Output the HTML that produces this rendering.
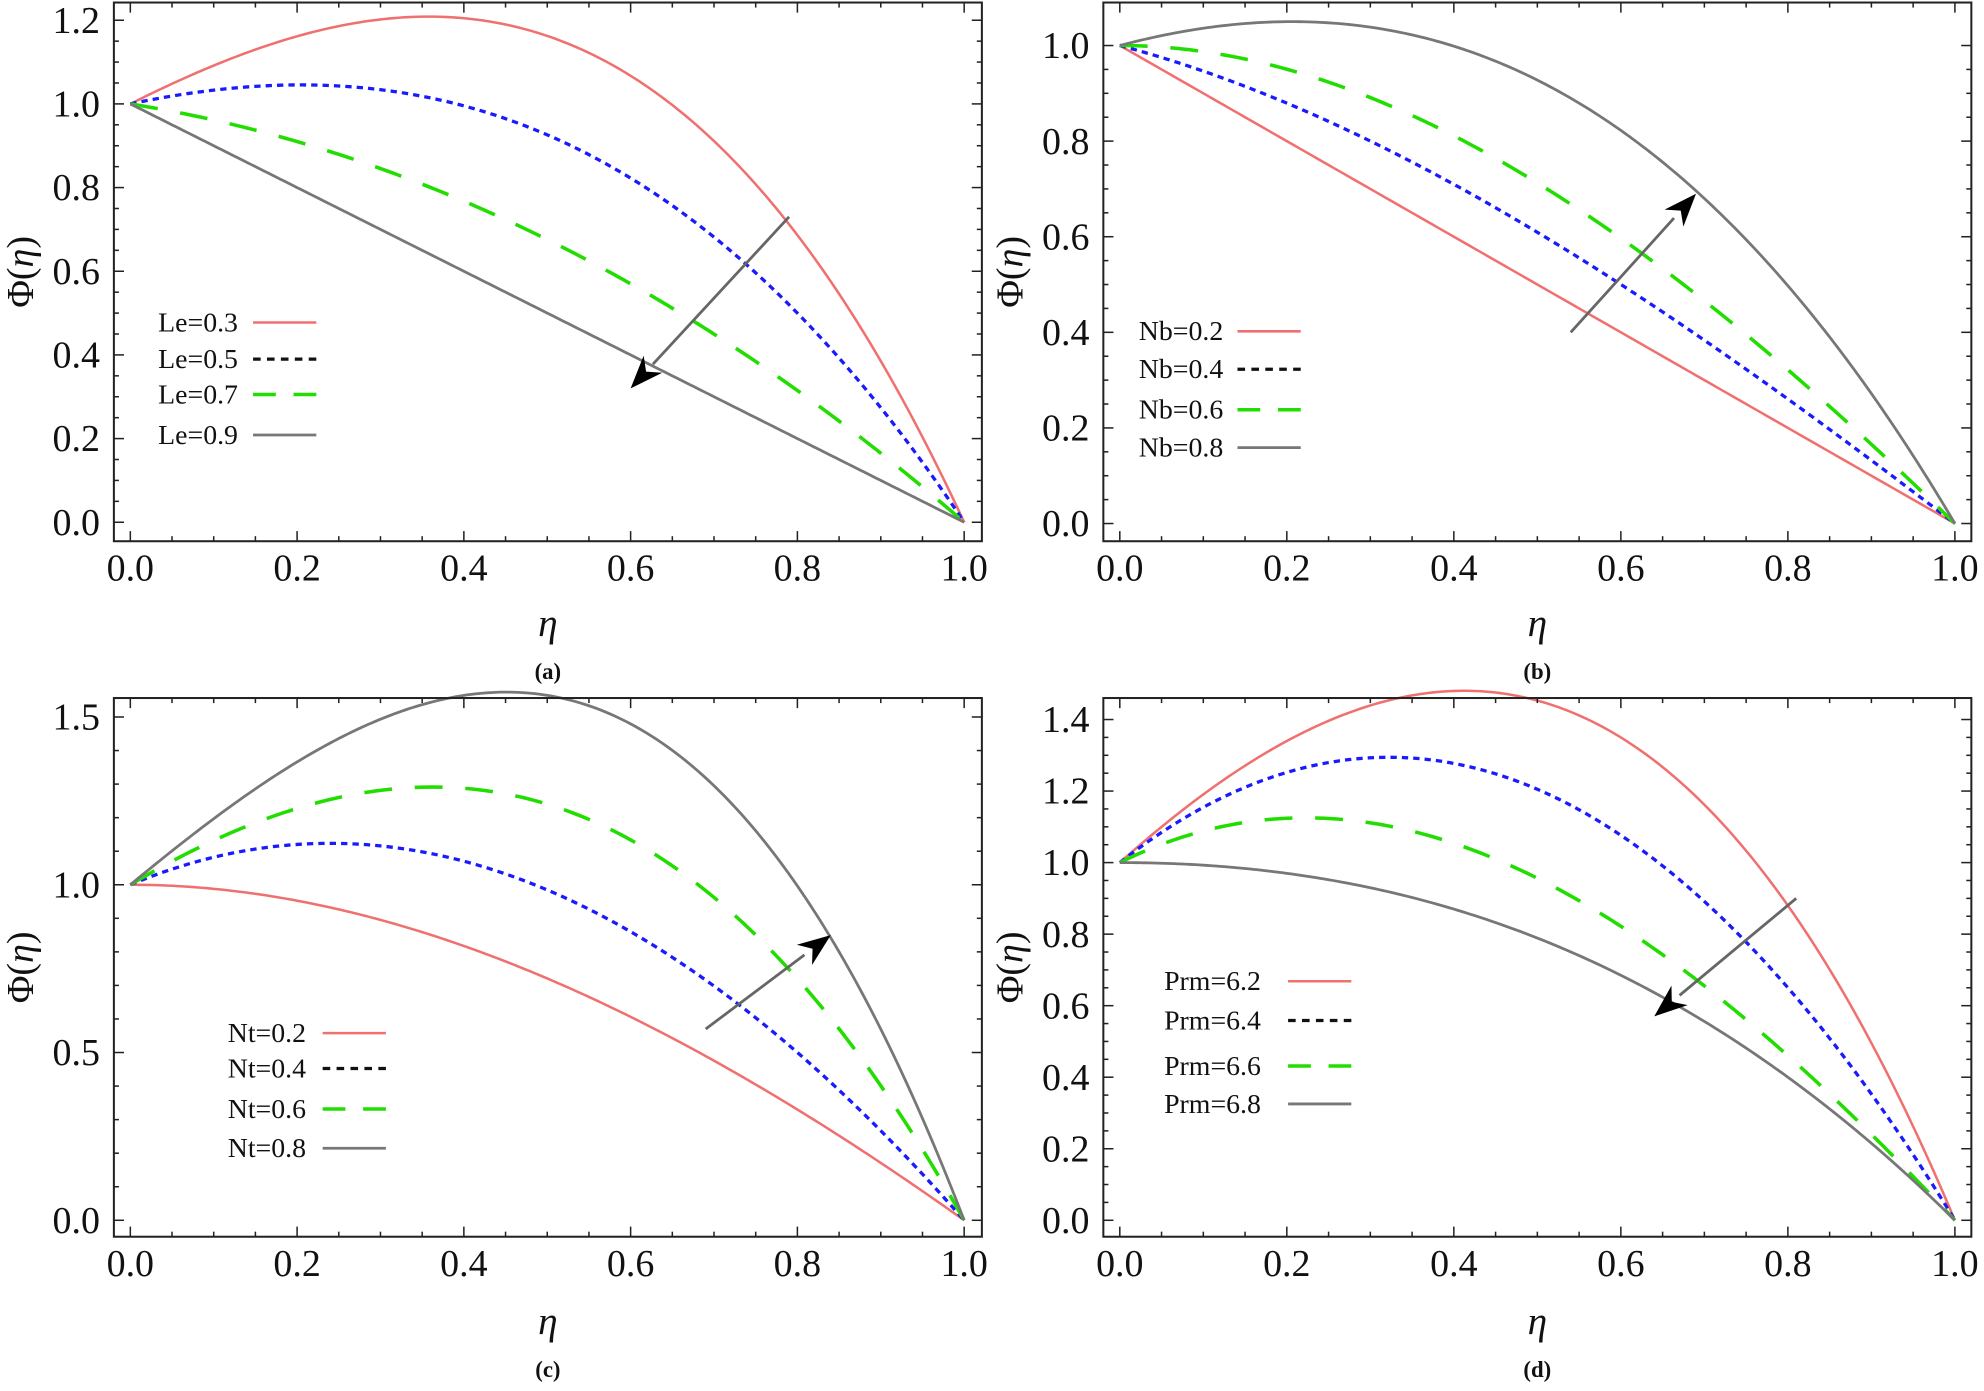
<!DOCTYPE html>
<html><head><meta charset="utf-8"><style>
html,body{margin:0;padding:0;background:#fff;}
svg{display:block;}
text{font-family:"Liberation Serif",serif;fill:#111;}
</style></head><body>
<svg id="s" width="1984" height="1391" viewBox="0 0 1568 1100" preserveAspectRatio="none" xmlns="http://www.w3.org/2000/svg">
</svg>
<script>
var S=document.getElementById('s');var NS='http://www.w3.org/2000/svg';
function el(t,a,txt){var e=document.createElementNS(NS,t);for(var k in a)e.setAttribute(k,a[k]);if(txt!==undefined)e.textContent=txt;S.appendChild(e);return e;}
var panels=[
{L:90,R:776,T:2,B:428,x0:103,x1:762,y0:413,yv:1.2,yp:16,ticks:[0,0.2,0.4,0.6,0.8,1.0,1.2],minor:0.05,
 curves:[[2.0,1.3],[1.42,0.568],[0.677,0.052],[0,0]],arrow:[0.79,0.73,0.60,0.32],
 lg:{x:125,ys:[255,284,312,344],lx:[200,250],labels:["Le=0.3","Le=0.5","Le=0.7","Le=0.9"]},cap:"(a)",capy:537,ety:503},
{L:872,R:1558,T:2,B:428,x0:885,x1:1545,y0:414,yv:1.0,yp:36,ticks:[0,0.2,0.4,0.6,0.8,1.0],minor:0.05,
 curves:[[0,0],[0.536,-0.198],[1.0,-0.3],[1.463,0.495]],arrow:[0.54,0.40,0.69,0.69],
 lg:{x:900,ys:[262,292,324,354],lx:[978,1028],labels:["Nb=0.2","Nb=0.4","Nb=0.6","Nb=0.8"]},cap:"(b)",capy:537,ety:503},
{L:90,R:776,T:552,B:978,x0:103,x1:762,y0:965,yv:1.5,yp:567,ticks:[0,0.5,1.0,1.5],minor:0.1,
 curves:[[1,-0.234],[2.043,-0.21],[2.48,0.962],[3.058,2.40]],arrow:[0.69,0.57,0.84,0.85],
 lg:{x:180,ys:[817,845,877,908],lx:[255,305],labels:["Nt=0.2","Nt=0.4","Nt=0.6","Nt=0.8"]},cap:"(c)",capy:1089,ety:1055},
{L:872,R:1558,T:552,B:978,x0:885,x1:1545,y0:965,yv:1.4,yp:569,ticks:[0,0.2,0.4,0.6,0.8,1.0,1.2,1.4],minor:0.05,
 curves:[[3.083,1.458],[2.83,-0.02],[2.158,-0.666],[1,0.3125]],arrow:[0.81,0.90,0.64,0.57],
 lg:{x:920,ys:[776,807,843,873],lx:[1018,1068],labels:["Prm=6.2","Prm=6.4","Prm=6.6","Prm=6.8"]},cap:"(d)",capy:1089,ety:1055}
];
var styles=[{s:"#f07070",w:2,d:""},{s:"#1a1aff",w:2.6,d:"5,4"},{s:"#22dd00",w:2.8,d:"22,18"},{s:"#777",w:2.2,d:""}];
var lgst=[{s:"#f07070",w:2,d:""},{s:"#111",w:2.6,d:"6,5"},{s:"#22dd00",w:2.8,d:"18,14"},{s:"#777",w:2.2,d:""}];
panels.forEach(function(p){
 var X=function(v){return p.x0+(p.x1-p.x0)*v;};
 var Y=function(v){return p.y0-(p.y0-p.yp)*v/p.yv;};
 p.curves.forEach(function(c,i){
  var d="";for(var k=0;k<=200;k++){var t=k/200;var f=(1-t)*(1+c[0]*t+c[1]*t*t);d+=(k?"L":"M")+X(t).toFixed(2)+","+Y(f).toFixed(2);}
  var st=styles[i];el('path',{d:d,fill:'none',stroke:st.s,'stroke-width':st.w,'stroke-dasharray':st.d});
 });
 el('rect',{x:p.L,y:p.T,width:p.R-p.L,height:p.B-p.T,fill:'none',stroke:'#222','stroke-width':1.6});
 for(var v=0;v<=1.0001;v+=0.05){var maj=Math.abs(v*5-Math.round(v*5))<1e-6;var l=maj?8:4;var x=X(v);
  el('line',{x1:x,y1:p.B,x2:x,y2:p.B-l,stroke:'#222','stroke-width':1.2});
  el('line',{x1:x,y1:p.T,x2:x,y2:p.T+l,stroke:'#222','stroke-width':1.2});
  if(maj)el('text',{x:x,y:p.B+31,'font-size':30,'text-anchor':'middle'},v.toFixed(1));}
 for(var v=0;v<=p.yv+1e-6;v+=p.minor){var maj=p.ticks.some(function(t){return Math.abs(t-v)<1e-6;});var l=maj?8:4;var y=Y(v);
  el('line',{x1:p.L,y1:y,x2:p.L+l,y2:y,stroke:'#222','stroke-width':1.2});
  el('line',{x1:p.R,y1:y,x2:p.R-l,y2:y,stroke:'#222','stroke-width':1.2});
  if(maj)el('text',{x:p.L-11,y:y+10,'font-size':30,'text-anchor':'end'},v.toFixed(1));}
 el('text',{x:(p.L+p.R)/2,y:p.ety,'font-size':31,'font-style':'italic','text-anchor':'middle'},"η");
 var cy=(p.T+p.B)/2;var yx=p.L-64;var yl=el('text',{x:yx,y:cy,'font-size':30,'text-anchor':'middle',transform:'rotate(-90 '+yx+' '+cy+')'},"");
 yl.innerHTML='Φ(<tspan font-style="italic">η</tspan>)';
 el('text',{x:(p.L+p.R)/2,y:p.capy,'font-size':18,'font-weight':'bold','text-anchor':'middle'},p.cap);
 p.lg.ys.forEach(function(y,i){
  el('text',{x:p.lg.x,y:y+7,'font-size':22},p.lg.labels[i]);
  var st=lgst[i];el('line',{x1:p.lg.lx[0],y1:y,x2:p.lg.lx[1],y2:y,stroke:st.s,'stroke-width':st.w,'stroke-dasharray':st.d});
 });
 var a=p.arrow;var ax=X(a[0]),ay=Y(a[1]),bx=X(a[2]),by=Y(a[3]);
 var dx=bx-ax,dy=by-ay,L=Math.hypot(dx,dy),ux=dx/L,uy=dy/L;
 var hx=bx-ux*26,hy=by-uy*26;
 el('line',{x1:ax,y1:ay,x2:hx,y2:hy,stroke:'#666','stroke-width':2.2});
 el('path',{d:'M'+bx+','+by+' L'+(hx-uy*10)+','+(hy+ux*10)+' L'+(bx-ux*18)+','+(by-uy*18)+' L'+(hx+uy*10)+','+(hy-ux*10)+'Z',fill:'#000'});
});
</script>
</body></html>
